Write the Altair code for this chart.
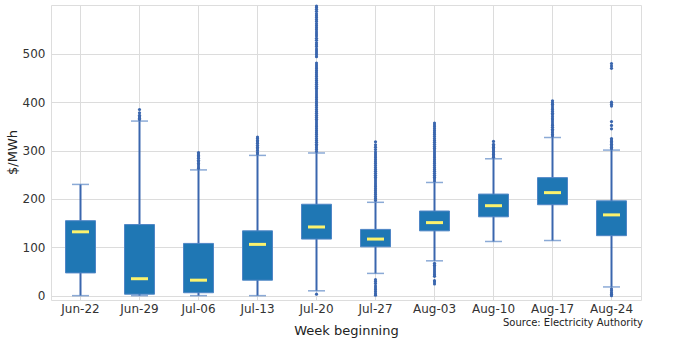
import altair as alt
import pandas as pd

weeks = ["Jun-22", "Jun-29", "Jul-06", "Jul-13", "Jul-20", "Jul-27", "Aug-03", "Aug-10", "Aug-17", "Aug-24"]
whisker_low = [0, 0, 0, 0, 10, 46, 72, 112, 114, 18]
q1 = [47, 3, 6, 32, 117, 101, 134, 163, 188, 124]
median = [132, 35, 32, 106, 142, 117, 151, 186, 213, 167]
q3 = [155, 147, 108, 134, 189, 137, 175, 210, 244, 196]
whisker_high = [230, 361, 260, 290, 295, 193, 234, 283, 327, 301]

outliers = [
    [],
    [364, 367, 370, 373, 378, 385],
    [263, 266, 270, 273, 277, 280, 284, 287, 290, 293, 296],
    [293, 296, 300, 304, 307, 311, 315, 318, 321, 325, 328],
    [3, 298, 302, 306, 310, 313, 317, 321, 325, 329, 333, 337, 341, 345, 349, 353, 357,
     361, 365, 369, 373, 377, 381, 385, 389, 393, 397, 401, 405, 409, 413, 417, 421,
     425, 429, 433, 437, 441, 445, 449, 453, 457, 461, 465, 469, 473, 477, 481, 494,
     498, 502, 506, 510, 515, 519, 523, 528, 532, 537, 541, 545, 550, 554, 558, 562,
     567, 571, 575, 579, 583, 588, 592, 596, 599],
    [1, 4, 8, 12, 16, 20, 25, 29, 33, 197, 201, 205, 209, 213, 217, 221, 225, 229, 233,
     237, 241, 245, 249, 253, 257, 261, 265, 269, 273, 277, 281, 285, 289, 293, 297,
     302, 307, 312, 318],
    [24, 28, 31, 40, 43, 47, 51, 55, 59, 63, 67, 237, 241, 245, 249, 253, 257, 261, 265,
     269, 273, 277, 281, 285, 289, 293, 297, 301, 305, 309, 313, 317, 321, 325, 329,
     333, 337, 341, 345, 349, 353, 357],
    [286, 289, 292, 295, 298, 301, 304, 307, 310, 313, 319],
    [330, 333, 337, 341, 344, 348, 352, 355, 359, 363, 366, 370, 374, 377, 381, 385,
     388, 392, 396, 399, 403],
    [0, 3, 6, 10, 14, 304, 307, 310, 313, 316, 319, 322, 325, 345, 352, 360, 392, 396,
     400, 470, 475, 480],
]
source_note = ["Source: Electricity Authority"]

summary = pd.DataFrame({
    "week": weeks, "lo": whisker_low, "q1": q1, "med": median, "q3": q3, "hi": whisker_high
})
out_df = pd.DataFrame(
    [{"week": w, "value": v} for w, vals in zip(weeks, outliers) for v in vals]
)
note_df = pd.DataFrame({"note": source_note})

font = "DejaVu Sans"
blue_line = "#3a66ae"
box_fill = "#1f77b4"
yellow = "#fbf26d"

yscale = alt.Scale(domain=[-9, 601], nice=False, zero=False)
xenc = alt.X(
    "week:N",
    sort=weeks,
    scale=alt.Scale(paddingInner=0, paddingOuter=0),
    axis=alt.Axis(
        title="Week beginning", labelAngle=0, ticks=False, domain=False,
        labelFontSize=12, titleFontSize=13, labelPadding=3, titlePadding=10,
        labelColor="#333333", titleColor="#222222", titleFontWeight="normal",
        labelFont=font, titleFont=font, grid=True, gridColor="#dcdcdc",
    ),
)

base = alt.Chart(summary).encode(x=xenc)

whisk = base.mark_rule(color=blue_line, strokeWidth=2).encode(
    y=alt.Y("lo:Q", scale=yscale, axis=alt.Axis(
        title="$/MWh", values=[0, 100, 200, 300, 400, 500], ticks=False, domain=False,
        labelFontSize=12, titleFontSize=13, labelPadding=6,
        titleX=-39, titleY=147, titleAngle=270, titleAlign="center", titleBaseline="middle",
        labelColor="#333333", titleColor="#222222", titleFontWeight="normal",
        labelFont=font, titleFont=font, gridColor="#dcdcdc",
    )),
    y2="hi:Q",
)

caps_lo = base.mark_tick(color="#5a86c4", size=17, thickness=1.5).encode(
    y=alt.Y("lo:Q", scale=yscale)
)
caps_hi = base.mark_tick(color="#5a86c4", size=17, thickness=1.5).encode(
    y=alt.Y("hi:Q", scale=yscale)
)

outs = alt.Chart(out_df).mark_circle(size=10, color=blue_line, opacity=1).encode(
    x=alt.X("week:N", sort=weeks), y=alt.Y("value:Q", scale=yscale)
)

box = base.mark_bar(size=30, color=box_fill, stroke="#4f86c6", strokeWidth=1).encode(
    y=alt.Y("q1:Q", scale=yscale), y2="q3:Q"
)

med = base.mark_tick(color=yellow, size=17, thickness=3, opacity=1).encode(
    y=alt.Y("med:Q", scale=yscale)
)

source = alt.Chart(note_df).mark_text(
    align="right", baseline="middle", fontSize=10, font=font, color="#222222"
).encode(text="note:N", x=alt.value(592), y=alt.value(318))

chart = alt.layer(whisk, caps_lo, caps_hi, outs, box, med, source).properties(
    width=590, height=295,
    padding={"left": 51, "top": 5, "right": 59, "bottom": 42},
    autosize=alt.AutoSizeParams(type="none"),
).configure_view(stroke="#d4d4d4", strokeWidth=1).configure(background="white")

chart.save("out.html", embed_options={"renderer": "svg", "actions": False})
